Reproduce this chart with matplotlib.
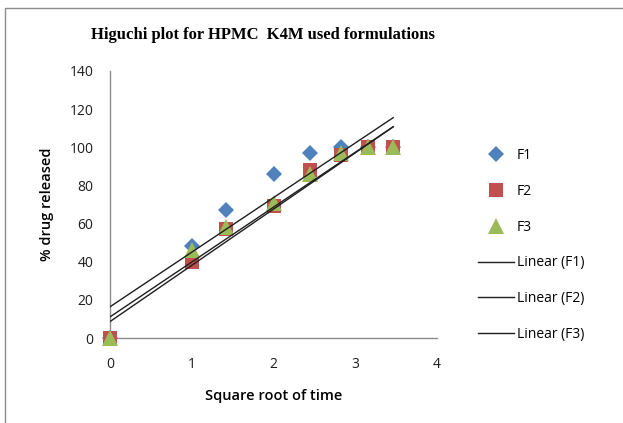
import matplotlib
matplotlib.use("Agg")
import matplotlib.pyplot as plt
import numpy as np
from matplotlib.patches import Rectangle

# ---- data -----------------------------------------------------------------
sqrt_time = [0, 1, 1.414, 2, 2.449, 2.828, 3.162, 3.464]
f1 = [0, 48, 67, 86, 97, 100, 100, 100]
f2 = [0, 40, 57, 69, 88, 96, 100, 100]
f3 = [0, 46, 58, 71, 86, 97, 100, 100]

names = ["F1", "F2", "F3"]
series = [f1, f2, f3]
markers = ["D", "s", "^"]
msizes = [8.5, 10.5, 11]
colors = ["#4F81BD", "#C0504D", "#9BBB59"]

SANS = ["Open Sans", "DejaVu Sans"]

fig = plt.figure(figsize=(6.23, 4.23), dpi=100)
fig.patches.append(Rectangle((5 / 623, -0.01), 1.02, 1 - 8 / 423 + 0.01,
                             transform=fig.transFigure, fill=False,
                             edgecolor="#8C8C8C", lw=1.0))
ax = fig.add_axes((110 / 623, 85 / 423, 327 / 623, 267 / 423))

x = np.array(sqrt_time)
point_handles, line_handles = [], []
for name, y, m, ms, c in zip(names, series, markers, msizes, colors):
    h, = ax.plot(x, y, linestyle="none", marker=m, markersize=ms, color=c,
                 markeredgewidth=0, label=name, zorder=3, clip_on=False)
    point_handles.append(h)
for name, y in zip(names, series):
    k, b = np.polyfit(x, y, 1)
    xs = np.array([x.min(), x.max()])
    h, = ax.plot(xs, k * xs + b, color="#1E1E1E", lw=1.0,
                 label=f"Linear ({name})", zorder=4)
    line_handles.append(h)

ax.set_xlim(0, 4)
ax.set_ylim(0, 140)
ax.set_xticks(range(0, 5))
ax.set_yticks(range(0, 141, 20))
ax.tick_params(length=0, labelsize=10, labelcolor="#1E1E1E")
ax.tick_params(axis="x", pad=14)
ax.tick_params(axis="y", pad=12)
for t in ax.get_xticklabels() + ax.get_yticklabels():
    t.set_family(SANS)
for s in ("top", "right"):
    ax.spines[s].set_visible(False)
for s in ("left", "bottom"):
    ax.spines[s].set_color("#8C8C8C")
    ax.spines[s].set_linewidth(1.0)

ax.set_xlabel("Square root of time", fontsize=10.5, fontweight="semibold",
              family=SANS, labelpad=12)
ax.set_ylabel("% drug released", fontsize=10.5, fontweight="semibold",
              family=SANS, labelpad=11)
fig.text(263 / 623, 1 - 35 / 423, "Higuchi plot for HPMC  K4M used formulations",
         ha="center", va="center", fontsize=12, fontweight="bold",
         family="Liberation Serif")

fig.legend(point_handles + line_handles,
           [h.get_label() for h in point_handles + line_handles],
           loc="upper left", bbox_to_anchor=(471 / 623, 1 - 141 / 423),
           frameon=False, prop={"family": SANS, "size": 10},
           labelspacing=1.5, handlelength=2.6, handletextpad=0.2,
           borderpad=0)

fig.savefig("out.png", dpi=100)
